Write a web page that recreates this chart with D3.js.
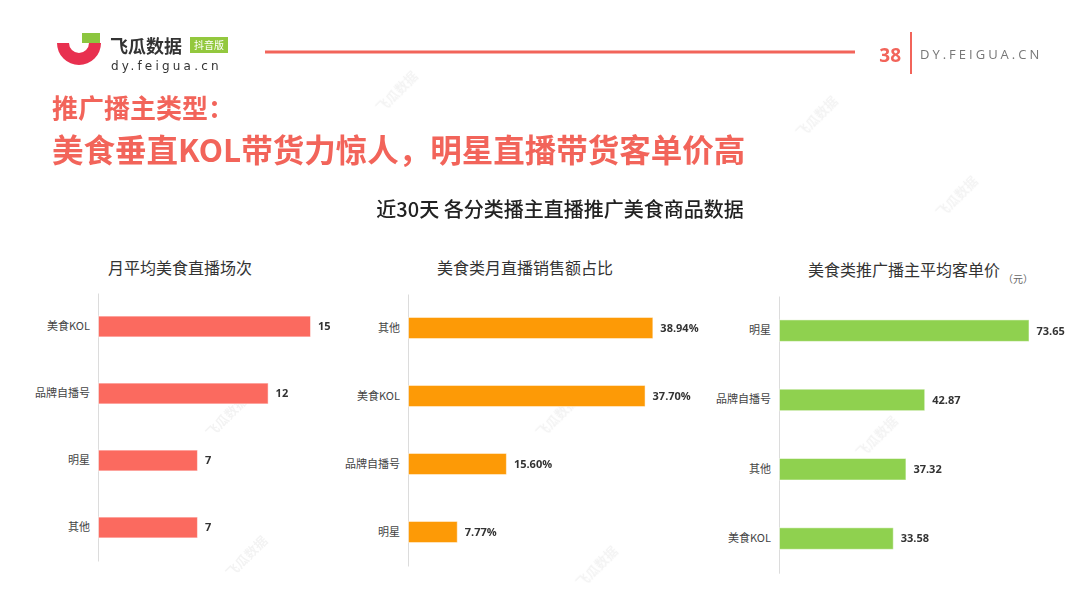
<!DOCTYPE html>
<html>
<head>
<meta charset="utf-8">
<script src="https://cdn.jsdelivr.net/npm/d3@7"></script>
<style>
  body { margin: 0; background: #fff; }
  svg { display: block; font-family: "Noto Sans CJK SC", "Noto Sans", sans-serif; }
</style>
</head>
<body>
<svg id="page" width="1080" height="608"></svg>
<script>
// data
const sessionCats = ['美食KOL', '品牌自播号', '明星', '其他'];
const sessionVals = [15, 12, 7, 7];

const salesCats = ['其他', '美食KOL', '品牌自播号', '明星'];
const salesVals = [38.94, 37.70, 15.60, 7.77];

const priceCats = ['明星', '品牌自播号', '其他', '美食KOL'];
const priceVals = [73.65, 42.87, 37.32, 33.58];

const coral = '#f2645a';

let svg = d3.select('#page');

// faint watermarks, kept in the open areas of the slide
const wmSpots = [[230, 420], [560, 420], [880, 440], [250, 560], [600, 570], [960, 200], [820, 120], [400, 95]];
let wm = svg.append('g').attr('fill', '#000').attr('opacity', 0.05)
    .attr('font-size', 13).attr('font-weight', 700);
wmSpots.forEach(p => {
  wm.append('text')
      .attr('transform', `translate(${p[0]},${p[1]}) rotate(-45)`)
      .attr('text-anchor', 'middle')
      .text('飞瓜数据');
});

// logo
let logo = svg.append('g');
logo.append('path')
    .attr('transform', 'translate(79,43)')
    .attr('fill', '#e8304f')
    .attr('d', d3.arc()({innerRadius: 10, outerRadius: 22, startAngle: Math.PI / 2, endAngle: Math.PI * 1.5}));
logo.append('rect')
    .attr('x', 82).attr('y', 33).attr('width', 18).attr('height', 10)
    .attr('fill', '#8cc63f');
logo.append('text')
    .attr('x', 110).attr('y', 53)
    .attr('font-size', 18).attr('font-weight', 700).attr('fill', '#333')
    .text('飞瓜数据');
logo.append('rect')
    .attr('x', 190).attr('y', 37).attr('width', 38).attr('height', 16)
    .attr('fill', '#93c83e');
logo.append('text')
    .attr('x', 209).attr('y', 49).attr('text-anchor', 'middle')
    .attr('font-size', 10).attr('fill', '#fff')
    .text('抖音版');
logo.append('text')
    .attr('x', 111).attr('y', 70)
    .attr('font-size', 12).attr('letter-spacing', 3.2).attr('fill', '#333')
    .attr('font-family', 'DejaVu Sans, sans-serif')
    .text('dy.feigua.cn');

// header rule + page number
svg.append('line')
    .attr('x1', 265).attr('x2', 855).attr('y1', 52).attr('y2', 52)
    .attr('stroke', coral).attr('stroke-width', 3);
svg.append('text')
    .attr('x', 901).attr('y', 62).attr('text-anchor', 'end')
    .attr('font-size', 19).attr('font-weight', 700).attr('fill', coral)
    .attr('font-family', 'Open Sans, sans-serif')
    .text('38');
svg.append('line')
    .attr('x1', 911).attr('x2', 911).attr('y1', 32).attr('y2', 74)
    .attr('stroke', coral).attr('stroke-width', 2);
svg.append('text')
    .attr('x', 920).attr('y', 59)
    .attr('font-size', 13).attr('letter-spacing', 3).attr('fill', '#777')
    .attr('font-family', 'Open Sans, sans-serif')
    .text('DY.FEIGUA.CN');

// slide title
svg.append('text')
    .attr('x', 52).attr('y', 117.5)
    .attr('font-size', 26).attr('font-weight', 700).attr('fill', coral)
    .text('推广播主类型：');
svg.append('text')
    .attr('x', 52).attr('y', 162)
    .attr('font-size', 31.5).attr('font-weight', 700).attr('fill', coral)
    .text('美食垂直KOL带货力惊人，明星直播带货客单价高');

svg.append('text')
    .attr('x', 560).attr('y', 217).attr('text-anchor', 'middle')
    .attr('font-size', 20).attr('font-weight', 500).attr('fill', '#222')
    .text('近30天 各分类播主直播推广美食商品数据');

// one small bar chart
function barChart(cfg) {
  let g = svg.append('g')
      .attr('transform', `translate(${cfg.left},0)`);

  let x = d3.scaleLinear().domain([0, cfg.max]).range([0, cfg.width]);
  let y = d3.scaleBand()
      .domain(cfg.cats)
      .range([cfg.top, cfg.top + cfg.step * cfg.cats.length])
      .paddingInner(0.69)
      .paddingOuter(0.345);

  let axis = g.append('g')
      .call(d3.axisLeft(y).tickSize(0).tickPadding(8));
  axis.select('.domain').attr('stroke', '#dcdcdc');
  axis.selectAll('text')
      .attr('font-size', 11).attr('fill', '#444')
      .attr('font-family', '"Noto Sans CJK SC", sans-serif');

  let rows = cfg.cats.map((c, i) => ({cat: c, val: cfg.vals[i]}));

  g.selectAll('.bar')
      .data(rows)
      .join('rect')
      .attr('class', 'bar')
      .attr('x', 0.5)
      .attr('y', d => y(d.cat))
      .attr('height', y.bandwidth())
      .attr('width', d => x(d.val))
      .attr('fill', cfg.color)
      .attr('stroke', '#fff').attr('stroke-opacity', 0.5);

  g.selectAll('.val')
      .data(rows)
      .join('text')
      .attr('class', 'val')
      .attr('x', d => x(d.val) + 8)
      .attr('y', d => y(d.cat) + y.bandwidth() / 2)
      .attr('dy', '0.35em')
      .attr('font-size', 11).attr('font-weight', 700).attr('fill', '#333')
      .attr('font-family', 'Open Sans, sans-serif')
      .text(d => cfg.fmt(d.val));

  svg.append('text')
      .attr('x', cfg.titleX).attr('y', cfg.titleY).attr('text-anchor', 'middle')
      .attr('font-size', 16).attr('fill', '#333')
      .text(cfg.title);
}

barChart({
  left: 98, top: 293, step: 67, width: 212, max: 15,
  cats: sessionCats, vals: sessionVals, color: '#fb6a5f',
  fmt: d => d3.format('d')(d),
  title: '月平均美食直播场次', titleX: 180, titleY: 274
});

barChart({
  left: 408, top: 294, step: 68, width: 251, max: 40,
  cats: salesCats, vals: salesVals, color: '#fd9a06',
  fmt: d => d3.format('.2f')(d) + '%',
  title: '美食类月直播销售额占比', titleX: 525, titleY: 274
});

barChart({
  left: 779, top: 296, step: 69.3, width: 271, max: 80,
  cats: priceCats, vals: priceVals, color: '#8fd14f',
  fmt: d => d3.format('.2f')(d),
  title: '美食类推广播主平均客单价', titleX: 904, titleY: 276
});

svg.append('text')
    .attr('x', 1018).attr('y', 283).attr('text-anchor', 'middle')
    .attr('font-size', 10).attr('fill', '#666')
    .text('（元）');
</script>
</body>
</html>
